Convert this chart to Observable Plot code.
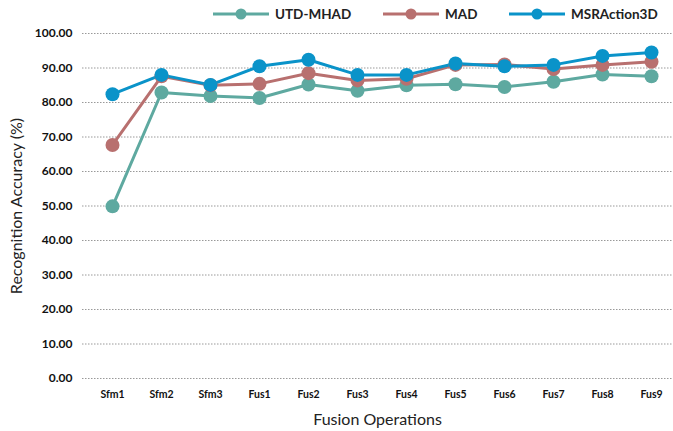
<!DOCTYPE html>
<html>
<head>
<meta charset="utf-8">
<script src="https://cdn.jsdelivr.net/npm/d3@7"></script>
<script src="https://cdn.jsdelivr.net/npm/@observablehq/plot@0.6"></script>
<style>
  html, body { margin: 0; padding: 0; background: #fff; }
  #wrap { width: 673px; font-family: Lato, "Open Sans", sans-serif; }
  #legend { position: relative; height: 23px; }
  .item { position: absolute; top: 6px; display: flex; align-items: center; font-weight: bold; font-size: 13.5px; color: #222; }
  .item svg { margin-right: 5px; }
</style>
</head>
<body>
<div id="wrap">
  <div id="legend"></div>
  <div id="chart"></div>
</div>
<script>
const categories = ["Sfm1","Sfm2","Sfm3","Fus1","Fus2","Fus3","Fus4","Fus5","Fus6","Fus7","Fus8","Fus9"];
const seriesNames = ["UTD-MHAD","MAD","MSRAction3D"];
const seriesColors = ["#5ea9a0","#b8706f","#0a93c9"];
const utdMhad     = [49.9, 82.9, 81.9, 81.3, 85.2, 83.4, 85.0, 85.3, 84.5, 86.0, 88.1, 87.6];
const mad         = [67.7, 87.6, 85.0, 85.4, 88.5, 86.4, 86.9, 90.9, 91.0, 89.7, 90.9, 91.8];
const msrAction3d = [82.4, 88.0, 85.1, 90.5, 92.4, 88.0, 88.0, 91.3, 90.5, 90.9, 93.5, 94.5];
const yTicks = [0,10,20,30,40,50,60,70,80,90,100];

const seriesValues = [utdMhad, mad, msrAction3d];
const data = seriesNames.flatMap((s, i) =>
  categories.map((c, j) => ({series: s, cat: c, value: seriesValues[i][j]}))
);

// Legend (HTML)
const legendLeft = [212, 382, 508];
const legend = document.getElementById("legend");
seriesNames.forEach((s, i) => {
  const div = document.createElement("div");
  div.className = "item";
  div.style.left = legendLeft[i] + "px";
  div.innerHTML = `<svg width="58" height="16"><line x1="1" y1="8" x2="57" y2="8" stroke="${seriesColors[i]}" stroke-width="3"/><circle cx="29" cy="8" r="5.5" fill="${seriesColors[i]}"/></svg><span>${s}</span>`;
  legend.appendChild(div);
});

const chart = Plot.plot({
  width: 673,
  height: 408,
  marginTop: 10,
  marginBottom: 53,
  marginLeft: 82,
  marginRight: 1,
  style: {fontFamily: "Lato, 'Open Sans', sans-serif", background: "#fff"},
  x: {type: "point", domain: categories, range: [109.5, 652.5], padding: 0},
  y: {domain: [0, 100]},
  color: {domain: seriesNames, range: seriesColors},
  marks: [
    Plot.gridY(yTicks, {stroke: "#999", strokeOpacity: 1, strokeDasharray: "1.5,1.5", strokeWidth: 1}),
    Plot.axisY(yTicks, {tickSize: 0, tickPadding: 10, tickFormat: d => d.toFixed(2), fontWeight: "bold", fontSize: 12, fill: "#111",
      label: "Recognition Accuracy (%)", labelAnchor: "center", labelArrow: "none", labelOffset: 72}),
    Plot.axisX({tickSize: 0, tickPadding: 12, fontWeight: "bold", fontSize: 10.5, fill: "#111",
      label: "Fusion Operations", labelAnchor: "center", labelArrow: "none", labelOffset: 46}),
    Plot.line(data, {x: "cat", y: "value", z: "series", stroke: "series", strokeWidth: 3}),
    Plot.dot(data, {x: "cat", y: "value", fill: "series", r: 7})
  ]
});
chart.querySelectorAll('[aria-label="y-axis label"] text, [aria-label="x-axis label"] text').forEach(t => {
  t.style.fontSize = "16px"; t.style.fontWeight = "normal"; t.setAttribute("fill", "#222");
});
document.getElementById("chart").appendChild(chart);
</script>
</body>
</html>
